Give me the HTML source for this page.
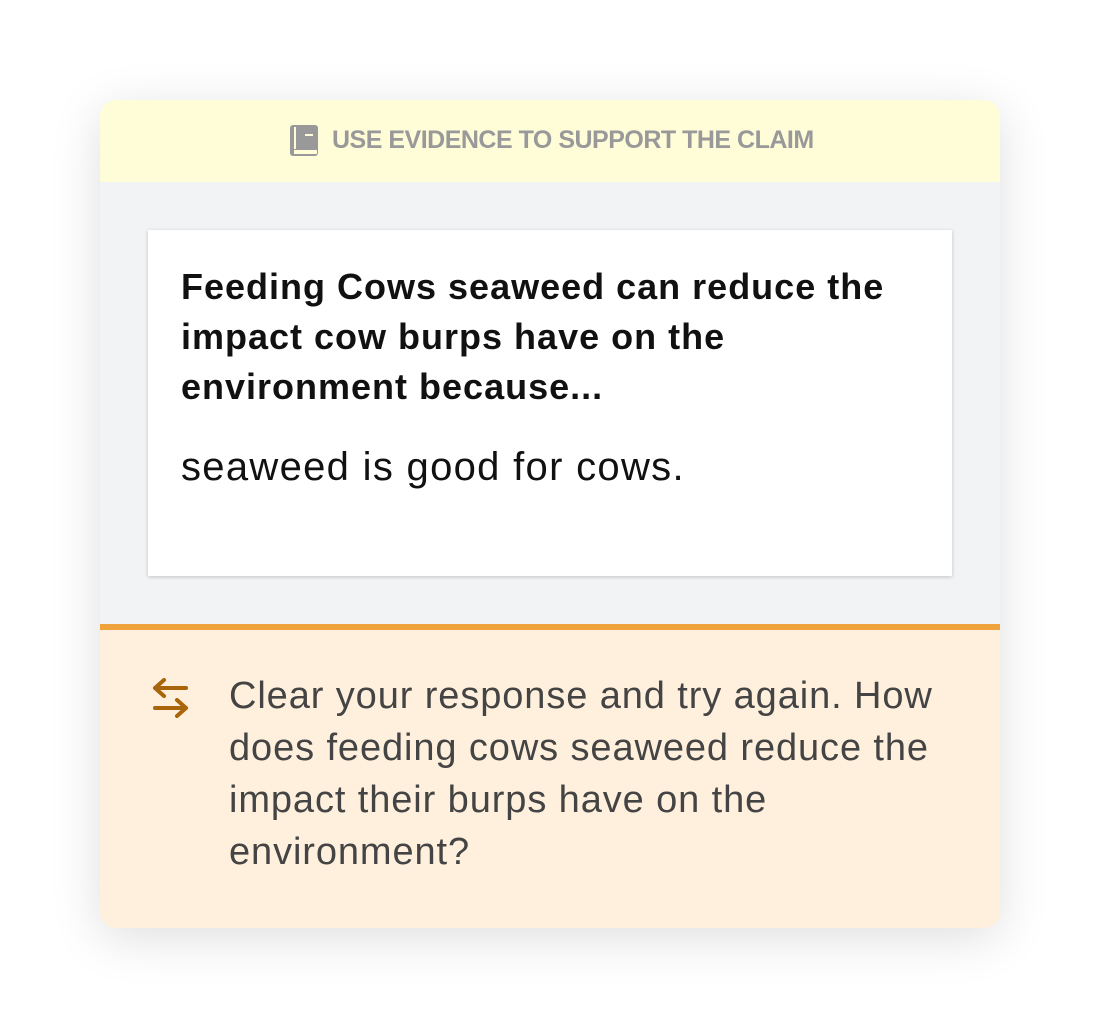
<!DOCTYPE html>
<html><head><style>
body{margin:0;width:1100px;height:1028px;background:#fff;font-family:"Liberation Sans",sans-serif;position:relative;overflow:hidden}
.card{position:absolute;left:100px;top:100px;width:900px;height:828px;border-radius:16px;overflow:hidden;box-shadow:0 10px 50px rgba(0,0,0,0.13);background:#f2f3f5}
.hdr{position:absolute;left:0;top:0;width:900px;height:82px;background:#fffcd8}
.hdr .t{position:absolute;left:232px;top:23px;font-size:25px;font-weight:bold;color:#999;letter-spacing:-0.5px;line-height:34px;white-space:nowrap}
.box{position:absolute;left:48px;top:130px;width:804px;height:346px;background:#fff;box-shadow:0 1px 4px rgba(0,0,0,0.2)}
.claim{position:absolute;left:33px;top:32px;font-size:36px;font-weight:bold;line-height:50px;color:#111;letter-spacing:1px;white-space:nowrap}
.ans{position:absolute;left:33px;top:212px;font-size:40px;line-height:50px;color:#111;letter-spacing:1.3px;white-space:nowrap}
.fb{position:absolute;left:0;top:524px;width:900px;height:304px;background:#fff0dd;border-top:6px solid #f0a23c}
.fb .t{position:absolute;left:129px;top:40px;font-size:38px;line-height:52px;color:#444;white-space:nowrap;letter-spacing:0.9px}
</style></head><body>
<div class="card">
 <div class="hdr">
  <svg style="position:absolute;left:189px;top:25px" width="30" height="32"><rect x="1" y="0" width="28" height="31" rx="3" fill="#999"/><rect x="5" y="25" width="23" height="4" fill="#fffcd8"/><rect x="5" y="2" width="2" height="22" fill="#fffcd8"/><rect x="16" y="9" width="8" height="2" fill="#fffcd8"/></svg>
  <div class="t">USE EVIDENCE TO SUPPORT THE CLAIM</div>
 </div>
 <div class="box">
  <div class="claim">Feeding Cows seaweed can reduce the<br>impact cow burps have on the<br>environment because...</div>
  <div class="ans">seaweed is good for cows.</div>
 </div>
 <div class="fb">
  <svg style="position:absolute;left:52px;top:48px" width="40" height="44" fill="none" stroke="#a8650a" stroke-width="4" stroke-linecap="round" stroke-linejoin="round"><path d="M3 10H34M12 2L3 10L12 18"/><path d="M3 30H34M25 22L34 30L25 38"/></svg>
  <div class="t">Clear your response and try again. How<br>does feeding cows seaweed reduce the<br>impact their burps have on the<br>environment?</div>
 </div>
</div>
</body></html>
